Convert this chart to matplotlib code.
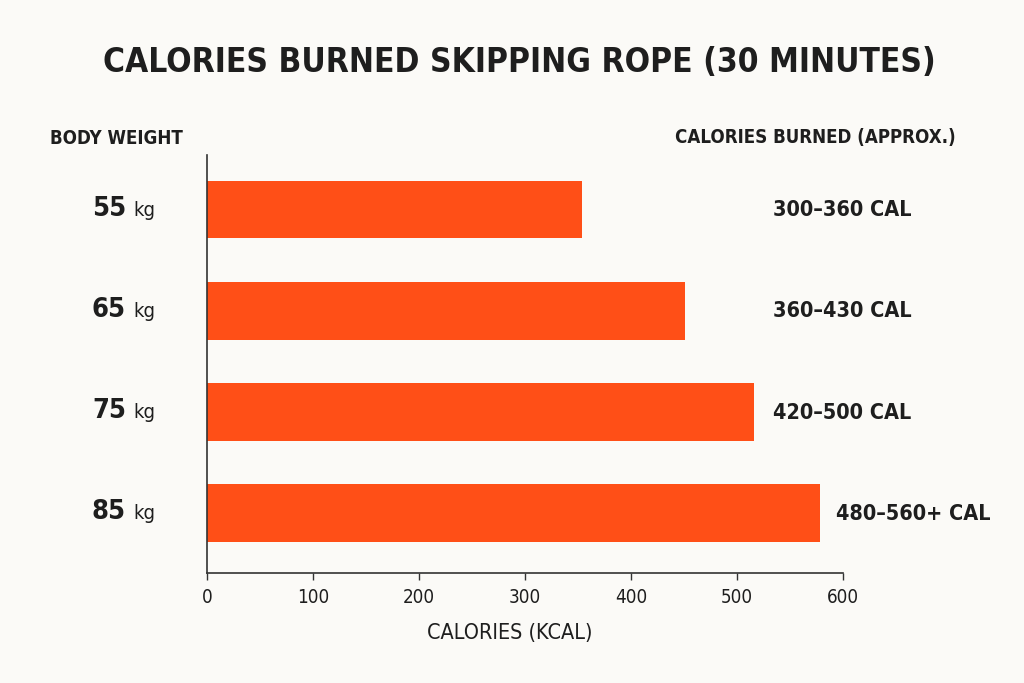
import matplotlib
matplotlib.use('Agg')
import matplotlib.pyplot as plt
from matplotlib import font_manager
from matplotlib.transforms import offset_copy

# ---- data ----
weights = ['55', '65', '75', '85']
calories = [354, 451, 516, 578]
ranges = ['300–360 CAL', '360–430 CAL', '420–500 CAL', '480–560+ CAL']
xticks = [0, 100, 200, 300, 400, 500, 600]

title = 'CALORIES BURNED SKIPPING ROPE (30 MINUTES)'
left_header = 'BODY WEIGHT'
right_header = 'CALORIES BURNED (APPROX.)'
xlabel = 'CALORIES (KCAL)'

# ---- style ----
BG = '#FBFAF7'
BAR = '#FF4F17'
TXT = '#1E1E1E'
AX = '#333333'

names = {f.name for f in font_manager.fontManager.ttflist}
if 'Liberation Sans Narrow' in names:
    FAM, STRETCH = 'Liberation Sans Narrow', 'normal'
else:
    FAM, STRETCH = 'DejaVu Sans', 'condensed'
plt.rcParams['font.family'] = [FAM, 'DejaVu Sans']
plt.rcParams['font.stretch'] = STRETCH

W, H = 1024, 683
fig = plt.figure(figsize=(W / 100, H / 100), dpi=100, facecolor=BG)
ax = fig.add_axes([207 / W, 1 - 573 / H, 636 / W, 418 / H], facecolor=BG)

ypos = list(range(len(weights)))
ax.barh(ypos, calories, height=0.57, color=BAR, zorder=2)
ax.set_xlim(0, 600)
ax.set_ylim(3.59, -0.54)

for s in ['top', 'right']:
    ax.spines[s].set_visible(False)
for s in ['left', 'bottom']:
    ax.spines[s].set_color(AX)
    ax.spines[s].set_linewidth(1.2)

ax.set_xticks(xticks)
ax.set_xticklabels([str(t) for t in xticks])
ax.tick_params(axis='x', direction='out', length=5, width=1, color=AX,
               labelsize=13.5, labelcolor=TXT, pad=6)
ax.set_yticks([])

# left weight labels
ytr = ax.get_yaxis_transform()
anchor_x = (129 - 207) / 636
for i, w in enumerate(weights):
    t1 = offset_copy(ytr, fig=fig, x=-3, y=0, units='dots')
    ax.text(anchor_x, i + 0.06, w, transform=t1, ha='right', va='baseline',
            fontsize=19.5, fontweight='bold', color=TXT, clip_on=False)
    t2 = offset_copy(ytr, fig=fig, x=4, y=0, units='dots')
    ax.text(anchor_x, i + 0.06, 'kg', transform=t2, ha='left', va='baseline',
            fontsize=14.5, color=TXT, clip_on=False)

# right range labels
for i, (v, r) in enumerate(zip(calories, ranges)):
    xpos = max(v + 15, 534)
    ax.text(xpos, i + 0.065, r, ha='left', va='baseline', fontsize=15.5,
            fontweight='bold', color=TXT, clip_on=False)

# headers
fig.text(519 / W, 1 - 62 / H, title, ha='center', va='center', fontsize=24,
         fontweight='bold', color=TXT)
fig.text(50 / W, 1 - 138 / H, left_header, ha='left', va='center', fontsize=13.4,
         fontweight='bold', color=TXT)
fig.text(675 / W, 1 - 138 / H, right_header, ha='left', va='center', fontsize=13.4,
         fontweight='bold', color=TXT)
fig.text(510 / W, 1 - 633 / H, xlabel, ha='center', va='center', fontsize=15.5,
         color=TXT)

fig.savefig('out.png', dpi=100, facecolor=BG)
